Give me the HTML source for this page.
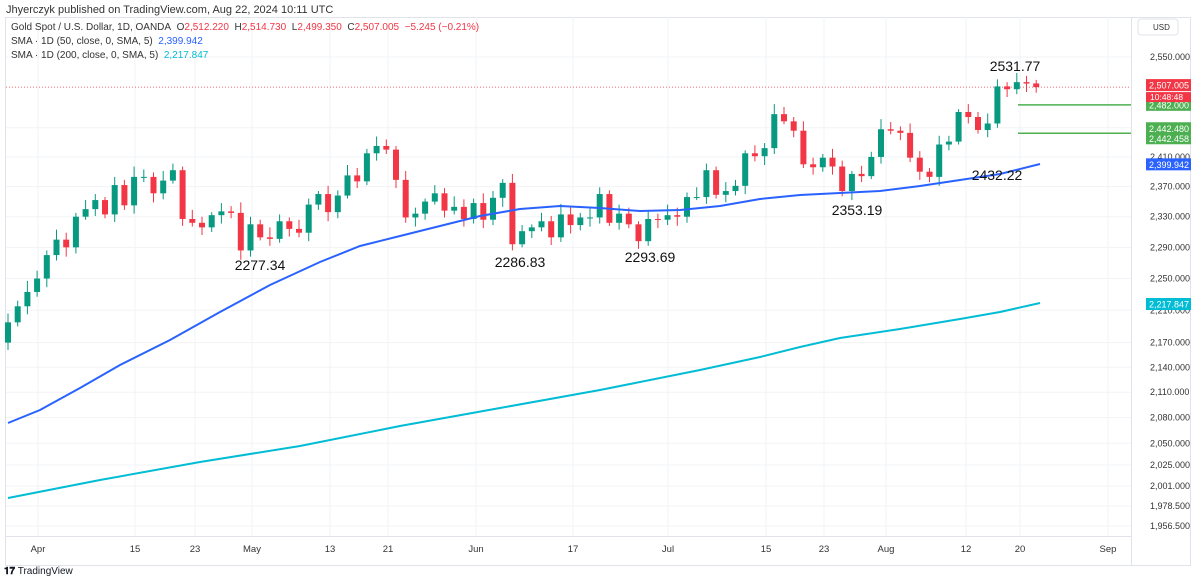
<!DOCTYPE html>
<html><head><meta charset="utf-8"><style>
body{margin:0;width:1200px;height:583px;background:#fff;font-family:"Liberation Sans",sans-serif;overflow:hidden;position:relative}
.t{position:absolute;white-space:nowrap}
</style></head><body>
<div class="t" style="left:6px;top:4px;font-size:11px;color:#333">Jhyerczyk published on TradingView.com, Aug 22, 2024 10:11 UTC</div>
<svg id="s" width="1200" height="583" style="position:absolute;left:0;top:0"></svg>
<div class="t" style="left:11px;top:21px;font-size:10px;color:#333;line-height:14px">Gold Spot / U.S. Dollar, 1D, OANDA&nbsp; O<span style="color:#f23645">2,512.220</span>&nbsp; H<span style="color:#f23645">2,514.730</span>&nbsp; L<span style="color:#f23645">2,499.350</span>&nbsp; C<span style="color:#f23645">2,507.005&nbsp; −5.245 (−0.21%)</span><br>SMA · 1D (50, close, 0, SMA, 5)&nbsp; <span style="color:#2962ff">2,399.942</span><br>SMA · 1D (200, close, 0, SMA, 5)&nbsp; <span style="color:#00bcd4">2,217.847</span></div>
<script>
const s=document.getElementById('s');let h='';
const Y=p=>57+(Math.log(2550)-Math.log(p))*1770;
h+='<rect x="5.5" y="17.5" width="1185" height="548" fill="none" stroke="#e0e3eb"/>';
h+='<line x1="1131.5" y1="17" x2="1131.5" y2="566" stroke="#e0e3eb"/>';
h+='<line x1="5" y1="536.5" x2="1131" y2="536.5" stroke="#e0e3eb"/>';
const ax=[2550,2450,2410,2370,2330,2290,2250,2210,2170,2140,2110,2080,2050,2025,2001,1978.5,1956.5];
ax.forEach(p=>{const y=Y(p);h+=`<line x1="6" x2="1131" y1="${y}" y2="${y}" stroke="#f2f3f5"/>`;
h+=`<text x="1150" y="${y+3}" font-size="9" fill="#333" font-family="Liberation Sans">${p.toLocaleString('en-US',{minimumFractionDigits:3})}</text>`});
const xl=[['Apr',38],['15',135],['23',195],['May',252],['13',330],['21',388],['Jun',476],['17',573],['Jul',668],['15',766],['23',824],['Aug',886],['12',966],['20',1020],['Sep',1108]];
xl.forEach(([t,x])=>{h+=`<line x1="${x}" x2="${x}" y1="17" y2="536" stroke="#f2f3f5"/><text x="${x}" y="552" font-size="9.5" fill="#333" text-anchor="middle" font-family="Liberation Sans">${t}</text>`});
h+='<rect x="1138" y="19" width="40" height="16" rx="3" fill="#fff" stroke="#e0e3eb"/><text x="1153" y="30" font-size="8" fill="#333" font-family="Liberation Sans">USD</text>';
h+=`<line x1="6" x2="1131" y1="${Y(2507)}" y2="${Y(2507)}" stroke="#f23645" stroke-dasharray="1,2" stroke-width="0.8"/>`;
h+=`<line x1="1018" x2="1131" y1="${Y(2482)}" y2="${Y(2482)}" stroke="#4caf50" stroke-width="1.5"/>`;
h+=`<line x1="1018" x2="1131" y1="${Y(2442.47)}" y2="${Y(2442.47)}" stroke="#4caf50" stroke-width="1.5"/>`;
const m50=[[8,423],[40,410],[80,388],[120,365],[170,340],[220,312],[270,285],[320,262],[360,246],[400,236],[440,226],[480,216],[520,209],[560,206],[600,208],[640,211],[680,210],[720,206],[760,199],[800,195],[840,193],[880,191],[920,186],[960,180],[1000,174],[1040,164]];
const m200=[[8,498],[100,480],[200,462],[300,446],[400,426],[500,408],[600,390],[700,370],[760,357],[800,347],[840,338],[900,329],[960,319],[1000,312],[1040,303]];
const pl=a=>a.map(p=>p.join(',')).join(' ');
h+=`<polyline points="${pl(m200)}" fill="none" stroke="#00bcd4" stroke-width="2"/>`;
const c=[2170,2195,2215,2233,2250,2280,2300,2290,2330,2340,2352,2333,2372,2345,2383,2383,2361,2378,2392,2327,2322,2316,2332,2337,2335,2286,2320,2303,2301,2324,2314,2309,2346,2360,2336,2358,2385,2377,2415,2425,2420,2379,2329,2334,2350,2361,2338,2343,2327,2348,2326,2355,2375,2294,2311,2316,2324,2303,2333,2319,2329,2329,2360,2322,2334,2320,2298,2327,2326,2332,2330,2356,2356,2392,2359,2364,2371,2415,2411,2422,2469,2459,2446,2400,2396,2409,2397,2364,2387,2384,2410,2448,2446,2443,2409,2390,2383,2427,2431,2472,2465,2447,2456,2508,2504,2514,2512,2507];
for(let i=1;i<c.length;i++){const x=8+(i-1)*9.7;let o=c[i-1],cl=c[i];if(i==c.length-1)o=2512.2;
const up=cl>=o,col=up?'#089981':'#f23645';const hi=Math.max(o,cl)+4+(i*7%11),lo=Math.min(o,cl)-4-(i*5%9);
h+=`<line x1="${x}" x2="${x}" y1="${Y(hi)}" y2="${Y(lo)}" stroke="${col}"/>`;
const y1=Y(Math.max(o,cl)),y2=Y(Math.min(o,cl));h+=`<rect x="${x-3}" y="${y1}" width="6" height="${Math.max(1,y2-y1)}" fill="${col}"/>`;}
h+=`<polyline points="${pl(m50)}" fill="none" stroke="#2962ff" stroke-width="2"/>`;
const an=[['2531.77',1015,71],['2432.22',997,180],['2353.19',857,215],['2277.34',260,270],['2286.83',520,267],['2293.69',650,262]];
an.forEach(([t,x,y])=>h+=`<text x="${x}" y="${y}" font-size="14" fill="#111" text-anchor="middle" font-family="Liberation Sans">${t}</text>`);
const lab=[[2507,'#f23645','2,507.005',-2],[2482,'#4caf50','2,482.000',0],[2442.48,'#4caf50','2,442.480',-5],[2442.458,'#4caf50','2,442.458',5],[2399.942,'#2962ff','2,399.942',0],[2217.847,'#00bcd4','2,217.847',0]];
lab.forEach(([p,col,t,d])=>{const y=Y(p)+d;h+=`<rect x="1146" y="${y-6}" width="45" height="12" fill="${col}"/><text x="1149" y="${y+3.5}" font-size="9" fill="#fff" font-family="Liberation Sans">${t}</text>`});
h+=`<rect x="1146" y="${Y(2507)+5}" width="45" height="10" fill="#f23645"/><text x="1150" y="${Y(2507)+13}" font-size="8.5" fill="#fff" font-family="Liberation Sans">10:48:48</text>`;
s.innerHTML=h;
</script>
<div class="t" style="left:4px;top:566px;font-size:10px;color:#131722"><b>𝟏𝟕</b> TradingView</div>
</body></html>
